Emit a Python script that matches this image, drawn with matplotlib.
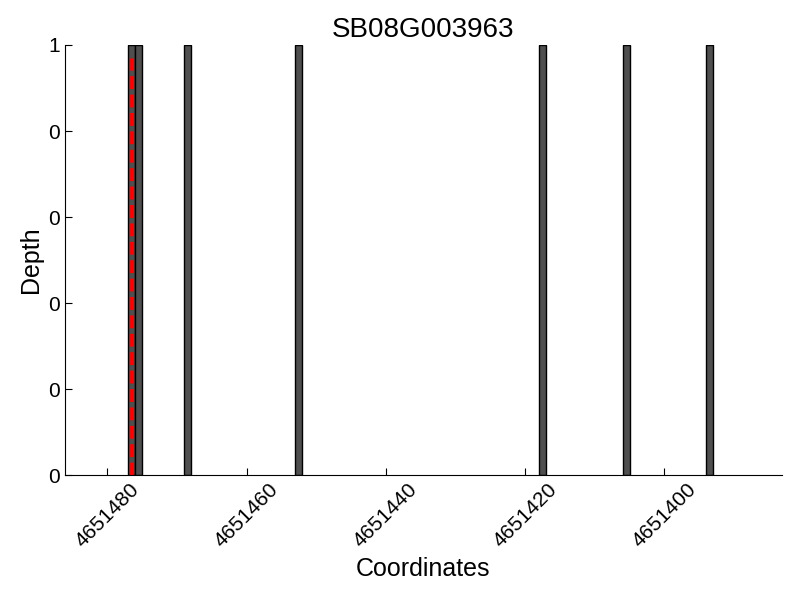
import matplotlib
matplotlib.use('Agg')
import matplotlib.pyplot as plt
from matplotlib.ticker import FormatStrFormatter

plt.rcParams['font.family'] = ['Liberation Sans', 'DejaVu Sans']

# Dados
positions = [4651476, 4651475, 4651468, 4651452, 4651417, 4651405, 4651393]
depth = [1, 1, 1, 1, 1, 1, 1]
marker_pos = 4651476.6
xticks = [4651480, 4651460, 4651440, 4651420, 4651400]
yticks = [0, 0.2, 0.4, 0.6, 0.8, 1.0]

fig = plt.figure(figsize=(8, 6), dpi=100)
ax = fig.add_axes([0.081, 0.2083, 0.8965, 0.7167])

ax.bar(positions, depth, width=1, align='edge', color='#4f4f4f',
       edgecolor='black', linewidth=1)
ax.axvline(marker_pos, color='red', linestyle='--', linewidth=2.5, ymax=0.97)

ax.set_xlim(4651486.1, 4651383.1)
ax.set_ylim(0, 1)
ax.set_xticks(xticks)
ax.set_xticklabels([str(t) for t in xticks], rotation=45, fontsize=15)
ax.set_yticks(yticks)
ax.yaxis.set_major_formatter(FormatStrFormatter('%d'))
ax.tick_params(axis='y', labelsize=15)
ax.tick_params(direction='in', length=5, top=False, right=False)

ax.spines['top'].set_visible(False)
ax.spines['right'].set_visible(False)

ax.set_title('SB08G003963', fontsize=20)
ax.set_xlabel('Coordinates', fontsize=18)
ax.set_ylabel('Depth', fontsize=18)

plt.savefig('out.png')
plt.close()
